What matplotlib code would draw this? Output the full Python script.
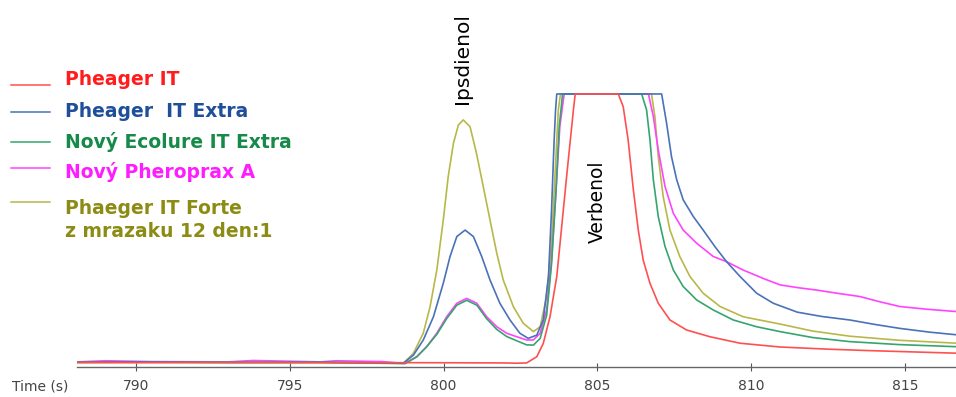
import matplotlib
matplotlib.use("Agg")
import matplotlib.pyplot as plt

# Chromatogram traces, time in s, signal in % of detector range (100 = saturated)
names = ["Pheager IT", "Pheager  IT Extra", "Nový Ecolure IT Extra",
         "Nový Pheroprax A", "Phaeger IT Forte\nz mrazaku 12 den:1"]
line_colors = ["#ff5050", "#4a72b8", "#35a56e", "#ff44ff", "#b8b84a"]
text_colors = ["#ff1c1c", "#1f4f99", "#168a48", "#ff1cff", "#8c8c14"]

t_red = [788.1, 790.0, 793.0, 796.0, 799.0, 802.0, 802.38, 802.7, 803.03, 803.24, 803.46,
         803.68, 803.84, 804.0, 804.11, 804.22, 804.28, 805.68, 805.84, 806.0, 806.17,
         806.33, 806.49, 806.71, 806.98, 807.36, 807.9, 808.66, 809.64, 810.94, 812.5,
         813.75, 815.2, 816.7]
v_red = [0.6, 0.5, 0.6, 0.5, 0.5, 0.4, 0.3, 0.4, 2.7, 7.6, 17.5,
         32.4, 50.9, 69.4, 81.7, 94.0, 100, 100, 95.3, 83.0, 64.5,
         49.6, 38.5, 29.9, 22.5, 16.3, 12.6, 10.1, 7.7, 6.3, 5.5,
         5.0, 4.5, 4.0]

t_blue = [788.1, 790.0, 793.0, 796.0, 798.69, 799.02, 799.34, 799.67, 799.99, 800.21, 800.43,
          800.7, 800.97, 801.24, 801.51, 801.83, 802.16, 802.48, 802.75, 803.03, 803.24,
          803.41, 803.51, 803.59, 803.64, 803.68, 807.09, 807.25, 807.41, 807.58, 807.79,
          808.12, 808.44, 808.82, 809.2, 809.64, 810.18, 810.72, 811.5, 812.3, 813.21,
          814.0, 814.83, 815.8, 816.7]
v_blue = [0.7, 0.8, 0.6, 0.7, 0.3, 3.3, 8.9, 17.5, 29.9, 39.8, 47.2,
          49.6, 47.2, 39.8, 31.1, 22.5, 16.3, 11.4, 9.5, 10.7, 16.3,
          32.4, 57.0, 81.7, 94.0, 100, 100, 89.2, 76.8, 68.2, 60.8,
          54.6, 49.6, 43.5, 37.9, 32.4, 26.2, 22.5, 19.2, 17.6, 16.3,
          14.7, 13.2, 11.8, 10.8]

t_green = [788.1, 790.0, 793.0, 796.0, 798.75, 799.13, 799.45, 799.78, 800.1, 800.43, 800.75,
           801.08, 801.4, 801.73, 802.05, 802.38, 802.7, 802.92, 803.14, 803.35, 803.51,
           803.65, 803.76, 803.87, 806.44, 806.6, 806.71, 806.82, 806.98, 807.2, 807.47,
           807.79, 808.23, 808.77, 809.42, 810.18, 810.94, 812.0, 813.2, 814.8, 816.7]
v_green = [0.6, 0.7, 0.6, 0.6, 0.2, 2.7, 6.4, 11.0, 16.8, 21.8, 23.6,
           21.8, 16.8, 12.8, 10.2, 8.6, 7.1, 7.0, 9.5, 18.0, 37.0,
           63.0, 88.0, 100, 100, 94.1, 83.0, 68.2, 54.6, 43.5, 34.8,
           28.7, 23.7, 20.0, 16.3, 13.8, 12.0, 9.8, 8.3, 7.2, 6.4]

t_mag = [788.1, 789.0, 790.5, 793.0, 793.8, 796.0, 796.5, 798.0, 798.75, 799.13, 799.45,
         799.78, 800.1, 800.43, 800.75, 801.08, 801.4, 801.73, 802.05, 802.38, 802.7,
         802.92, 803.14, 803.35, 803.51, 803.65, 803.78, 803.92, 806.66, 806.82, 806.98,
         807.2, 807.47, 807.79, 808.23, 808.77, 809.2, 809.74, 810.39, 810.94, 811.5,
         812.12, 812.8, 813.53, 814.2, 814.83, 815.7, 816.7]
v_mag = [0.8, 1.2, 0.9, 0.8, 1.3, 0.8, 1.2, 0.9, 0.2, 2.7, 6.4,
         11.4, 17.5, 22.5, 24.3, 22.5, 17.5, 13.8, 11.4, 10.1, 8.9,
         8.9, 11.4, 20.0, 38.5, 63.2, 88.0, 100, 100, 91.6, 79.3,
         65.7, 55.8, 49.6, 44.7, 39.8, 37.9, 34.8, 31.7, 29.3, 28.3,
         27.4, 26.2, 25.0, 23.0, 21.3, 20.3, 19.4]

t_olive = [788.1, 790.0, 793.0, 796.0, 798.69, 799.02, 799.34, 799.56, 799.78, 799.99, 800.15,
           800.32, 800.48, 800.64, 800.86, 801.07, 801.29, 801.51, 801.73, 801.94, 802.27,
           802.59, 802.92, 803.14, 803.35, 803.51, 803.62, 803.73, 803.8, 806.76, 806.87,
           806.98, 807.14, 807.36, 807.68, 808.01, 808.44, 808.99, 809.74, 810.94, 812.0,
           813.21, 814.8, 816.7]
v_olive = [0.5, 0.6, 0.5, 0.5, 0.2, 4.0, 11.4, 21.2, 34.8, 53.3, 69.4,
           81.7, 88.5, 90.4, 87.9, 78.0, 65.7, 53.3, 41.0, 31.1, 21.2,
           15.1, 12.0, 13.8, 25.0, 44.7, 69.4, 94.0, 100, 100, 91.6,
           76.8, 62.0, 49.6, 39.8, 32.4, 26.2, 21.3, 17.5, 14.8, 12.2,
           10.3, 8.8, 7.7]

series = [(t_red, v_red), (t_blue, v_blue), (t_green, v_green), (t_mag, v_mag), (t_olive, v_olive)]
ticks = [790, 795, 800, 805, 810, 815]

fig = plt.figure(figsize=(9.56, 3.97), dpi=100)
ax = fig.add_axes([0.0805, 0.0756, 0.9195, 0.9244])

# draw back to front so red ends up on top at the baseline
for (t, v), c in reversed(list(zip(series, line_colors))):
    ax.plot(t, v, color=c, lw=1.2)

ax.set_xlim(788.08, 816.66)
ax.set_ylim(-1.1, 134.8)
ax.set_xticks(ticks)
ax.set_xticklabels([str(x) for x in ticks], fontsize=10, color="#444444")
ax.tick_params(axis="x", direction="inout", length=6, width=0.8, color="#555555", pad=6)
ax.set_yticks([])
for s in ["top", "right", "left"]:
    ax.spines[s].set_visible(False)
ax.spines["bottom"].set_color("#666666")
ax.spines["bottom"].set_linewidth(1.0)

fig.text(0.013, 0.027, "Time (s)", fontsize=10, color="#444444", va="center")

# peak names
ax.text(800.62, 113, "Ipsdienol", rotation=90, ha="center", va="center", fontsize=14.5)
ax.text(805.0, 60, "Verbenol", rotation=90, ha="center", va="center", fontsize=13.5)

# legend drawn by hand in the top left
line_y = [0.786, 0.718, 0.643, 0.577, 0.490]
text_y = [0.800, 0.718, 0.643, 0.567, 0.446]
for i in range(len(names)):
    fig.add_artist(plt.Line2D([0.011, 0.052], [line_y[i], line_y[i]], color=line_colors[i], lw=1.1))
    fig.text(0.068, text_y[i], names[i], color=text_colors[i], fontsize=13.5,
             fontweight="bold", va="center", linespacing=1.25)

fig.savefig("out.png", dpi=100)
